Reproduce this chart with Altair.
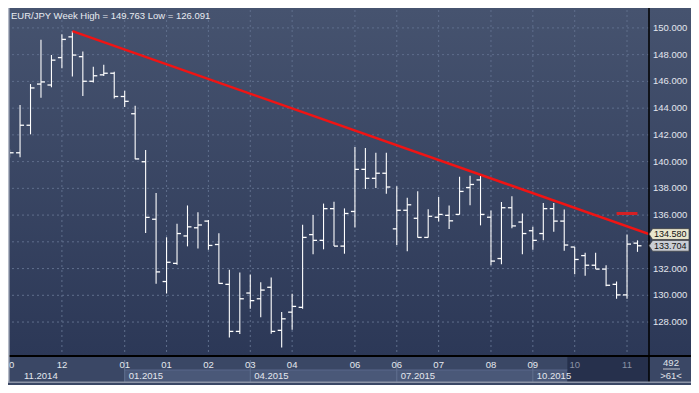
import altair as alt
import pandas as pd

# ---------------- data ----------------
bar_idx = list(range(61))
opens = [140.50, 140.66, 142.72, 145.80, 145.73, 147.78, 149.33, 147.85, 146.01, 146.49, 146.61,
         144.87, 143.58, 139.99, 135.69, 131.03, 132.39, 134.44, 135.05, 135.55, 133.80,
         130.82, 127.30, 130.17, 129.74, 130.60, 127.38, 128.74, 129.10, 134.54, 134.11,
         136.48, 133.68, 136.27, 139.42, 138.75, 139.13, 134.97, 136.36, 135.76, 134.33,
         135.84, 135.98, 136.05, 138.06, 138.63, 135.84, 132.75, 136.55, 135.48, 134.83,
         134.62, 136.48, 135.55, 133.61, 132.97, 132.25, 131.96, 130.82, 130.03, 133.90]
highs = [140.90, 144.24, 145.80, 149.12, 147.97, 149.53, 149.763, 148.24, 147.09, 147.25, 146.73,
         145.30, 144.17, 140.87, 137.65, 134.35, 135.35, 136.72, 136.21, 135.64, 134.64,
         131.91, 131.70, 131.56, 130.98, 131.34, 128.76, 130.12, 135.28, 136.00, 136.86,
         137.00, 136.50, 141.09, 141.02, 140.66, 140.66, 138.15, 137.29, 137.79, 136.43,
         137.36, 136.72, 138.87, 138.94, 138.94, 136.34, 136.98, 137.41, 136.12, 135.12,
         136.91, 136.91, 136.41, 133.61, 133.18, 133.18, 132.25, 131.03, 134.54, 134.11]
lows = [140.30, 140.32, 142.04, 144.77, 145.56, 146.99, 146.37, 144.91, 145.91, 146.40, 144.72,
        144.08, 140.18, 134.66, 130.86, 130.14, 132.29, 133.66, 133.51, 133.40, 130.86,
        126.85, 127.11, 129.00, 128.35, 127.13, 126.091, 127.42, 129.00, 133.08, 133.44,
        133.68, 133.11, 135.07, 137.96, 138.03, 137.60, 133.76, 133.30, 134.33, 134.33,
        135.52, 134.95, 136.05, 136.74, 135.23, 132.25, 132.32, 135.02, 133.08, 133.40,
        134.11, 134.76, 133.33, 131.58, 131.46, 131.96, 130.67, 129.74, 129.74, 133.25]
closes = [140.66, 142.72, 145.51, 145.96, 147.59, 149.14, 147.97, 146.01, 146.42, 146.61, 144.87,
          144.51, 140.20, 135.83, 131.75, 132.47, 134.62, 135.12, 135.26, 133.73, 130.89,
          127.30, 129.74, 129.60, 130.39, 127.30, 128.24, 129.17, 134.33, 134.11, 136.48,
          133.68, 136.12, 139.42, 138.75, 139.13, 138.10, 136.36, 136.77, 134.33, 135.91,
          136.05, 135.57, 137.77, 138.29, 136.05, 132.56, 136.55, 135.19, 134.62, 134.11,
          136.48, 135.55, 133.76, 132.68, 132.25, 131.96, 130.75, 130.03, 133.83, 133.704]

price_ticks = [128, 130, 132, 134, 136, 138, 140, 142, 144, 146, 148, 150]
# 134.000 is hidden behind the price tags in the original
price_labels = [128, 130, 132, 136, 138, 140, 142, 144, 146, 148, 150]
grid_idx = [5, 11, 15, 19, 23, 27, 33, 37, 41, 46, 50, 54, 59]
label_pos = [0.2, 5, 11, 15, 19, 23, 27, 33, 37, 41, 46, 50, 54, 59]
label_txt = ["0", "12", "01", "01", "02", "03", "04", "06", "06", "07", "08", "09", "10", "11"]
quarter_idx = [1, 11, 23, 37, 50]
quarter_txt = ["11.2014", "01.2015", "04.2015", "07.2015", "10.2015"]
sel_range = [53.3, 61.1]
trend_idx = [6, 61.1]
trend_val = [149.763, 134.58]
level_idx = [58, 60]
level_val = [136.12, 136.12]
tag_vals = [134.580, 133.704]
tag_fill = ["#e9e6cd", "#c9cdd5"]
title_text = "EUR/JPY Week  High = 149.763 Low = 126.091"
corner_txt = ["492", ">61<"]

# ---------------- layout ----------------
W, H = 639, 346
RP, BP = 42, 29
FONT = "Liberation Sans"
xs = alt.Scale(domain=[0.04, 61.1], nice=False, zero=False)
ys = alt.Scale(domain=[125.46, 151.34], nice=False, zero=False)

ohlc = pd.DataFrame(dict(i=bar_idx, o=opens, h=highs, l=lows, c=closes))
one = pd.DataFrame({"k": [0]})
ticks_df = pd.DataFrame({"v": price_ticks})

grad = alt.Gradient(gradient="linear",
                    stops=[alt.GradientStop(color="#46536f", offset=0),
                           alt.GradientStop(color="#2c3857", offset=1)],
                    x1=0, x2=0, y1=0, y2=1)

bg = alt.Chart(one).mark_rect(fill=grad).encode(
    x=alt.value(0), x2=alt.value(W + RP), y=alt.value(-2), y2=alt.value(H))

hgrid = alt.Chart(ticks_df).mark_rule(
    color="#5f6e8c", strokeDash=[2, 3], strokeWidth=1).encode(
    y=alt.Y("v:Q", scale=ys, axis=None))

ylabels = alt.Chart(pd.DataFrame({"v": price_labels})).mark_text(
    align="left", baseline="middle", font=FONT, fontSize=9.5, color="#e3e6ee").encode(
    x=alt.value(W + 4), y=alt.Y("v:Q", scale=ys, axis=None),
    text=alt.Text("v:Q", format=".3f"))

vgrid = alt.Chart(pd.DataFrame({"i": grid_idx})).mark_rule(
    color="#5f6e8c", strokeDash=[2, 3], strokeWidth=1).encode(
    x=alt.X("i:Q", scale=xs, axis=None))

base = alt.Chart(ohlc)
hl = base.mark_rule(color="white", strokeWidth=1.1, clip=True).encode(
    x=alt.X("i:Q", scale=xs, axis=None),
    y=alt.Y("l:Q", scale=ys, axis=None),
    y2="h:Q")
op = base.mark_rule(color="white", strokeWidth=1.3, xOffset=-4, clip=True).encode(
    x=alt.X("i:Q", scale=xs, axis=None), x2="i:Q",
    y=alt.Y("o:Q", scale=ys, axis=None))
cl = base.mark_rule(color="white", strokeWidth=1.3, x2Offset=4, clip=True).encode(
    x=alt.X("i:Q", scale=xs, axis=None), x2="i:Q",
    y=alt.Y("c:Q", scale=ys, axis=None))

trend = alt.Chart(pd.DataFrame({"i": trend_idx, "v": trend_val})).mark_line(
    color="#f01414", strokeWidth=2.5, clip=True).encode(
    x=alt.X("i:Q", scale=xs, axis=None), y=alt.Y("v:Q", scale=ys, axis=None))

level = alt.Chart(pd.DataFrame({"i": level_idx, "v": level_val})).mark_line(
    color="#d42024", strokeWidth=3, strokeCap="butt").encode(
    x=alt.X("i:Q", scale=xs, axis=None),
    y=alt.Y("v:Q", scale=ys, axis=None))

title = alt.Chart(one).mark_text(align="left", baseline="middle", font=FONT,
                                 fontSize=9.5, color="#e8ebf1").encode(
    x=alt.value(1), y=alt.value(6), text=alt.value(title_text))

# bottom panel
band = alt.Chart(pd.DataFrame({"a": [quarter_idx[1]], "b": [sel_range[0]]})).mark_rect(
    color="#4a5878").encode(
    x=alt.X("a:Q", scale=xs, axis=None), x2="b:Q",
    y=alt.value(H + 14), y2=alt.value(H + 27))
dark = alt.Chart(pd.DataFrame({"a": [sel_range[0]], "b": [sel_range[1]]})).mark_rect(
    color="#26304c").encode(
    x=alt.X("a:Q", scale=xs, axis=None), x2="b:Q",
    y=alt.value(H + 1), y2=alt.value(H + 27))
divs = alt.Chart(pd.DataFrame({"i": quarter_idx[1:]})).mark_rule(
    color="#617090", strokeWidth=1).encode(
    x=alt.X("i:Q", scale=xs, axis=None), y=alt.value(H + 4), y2=alt.value(H + 27))
band_top = alt.Chart(pd.DataFrame({"a": [quarter_idx[1]], "b": [sel_range[0]]})).mark_rule(
    color="#58668a", strokeWidth=1).encode(
    x=alt.X("a:Q", scale=xs, axis=None), x2="b:Q", y=alt.value(H + 14))

lab_df = pd.DataFrame({"i": label_pos, "t": label_txt})
xlabels = alt.Chart(lab_df).mark_text(baseline="middle", align="center", font=FONT,
                                      fontSize=9.5).encode(
    x=alt.X("i:Q", scale=xs, axis=None), y=alt.value(H + 9), text="t:N",
    color=alt.condition(alt.datum.i >= sel_range[0], alt.value("#8a92a6"),
                        alt.value("#e4e7ee")))
qlabels = alt.Chart(pd.DataFrame({"i": quarter_idx, "t": quarter_txt})).mark_text(
    baseline="middle", align="left", dx=4, font=FONT, fontSize=9.5, color="#e4e7ee").encode(
    x=alt.X("i:Q", scale=xs, axis=None), y=alt.value(H + 20), text="t:N")

vline = alt.Chart(one).mark_rule(color="black", strokeWidth=1.5).encode(
    x=alt.value(W), y=alt.value(-2), y2=alt.value(H + BP - 2))
hline = alt.Chart(one).mark_rule(color="black", strokeWidth=2).encode(
    x=alt.value(-2), x2=alt.value(W + RP), y=alt.value(H))
lborder = alt.Chart(one).mark_rect(color="#b3b9c6").encode(
    x=alt.value(-2), x2=alt.value(-0.5), y=alt.value(-2), y2=alt.value(H + BP - 2))
bborder = alt.Chart(one).mark_rect(color="#8d95a8").encode(
    x=alt.value(-2), x2=alt.value(W + RP), y=alt.value(H + BP - 3.5), y2=alt.value(H + BP - 2))

corner = alt.Chart(pd.DataFrame({"t": corner_txt, "y": [H + 7, H + 20]})).mark_text(
    align="center", baseline="middle", font=FONT, fontSize=9.5, color="#e0e3ea").encode(
    x=alt.value(W + 22), y=alt.Y("y:Q", scale=None, axis=None), text="t:N")
corner_line = alt.Chart(one).mark_rule(color="#c3c7d0", strokeWidth=1).encode(
    x=alt.value(W + 14), x2=alt.value(W + 31), y=alt.value(H + 13))

tag_path = "M-1,0L-0.82,-0.27L1,-0.27L1,0.27L-0.82,0.27Z"
tag_df = pd.DataFrame({"v": tag_vals, "f": tag_fill})
tags = alt.Chart(tag_df).mark_point(shape=tag_path, size=1600, filled=True, opacity=1,
                                    stroke="#3c3c3c", strokeWidth=0.7).encode(
    x=alt.value(W + 20), y=alt.Y("v:Q", scale=ys, axis=None),
    color=alt.Color("f:N", scale=None, legend=None))
tag_text = alt.Chart(tag_df).mark_text(align="left", baseline="middle", font=FONT,
                                       fontSize=9, color="#111111").encode(
    x=alt.value(W + 5), y=alt.Y("v:Q", scale=ys, axis=None),
    text=alt.Text("v:Q", format=".3f"))

chart = alt.layer(
    bg, hgrid, vgrid, hl, op, cl, trend, level, title,
    band, dark, band_top, divs, xlabels, qlabels,
    vline, hline, lborder, bborder, ylabels, corner, corner_line, tags, tag_text
).properties(
    width=W, height=H,
    padding={"left": 2, "top": 2, "right": RP, "bottom": BP},
    autosize=alt.AutoSizeParams(type="none")
).configure(background="#3a4765").configure_view(strokeWidth=0)

chart.save("out.html", embed_options={"renderer": "svg", "actions": False})
